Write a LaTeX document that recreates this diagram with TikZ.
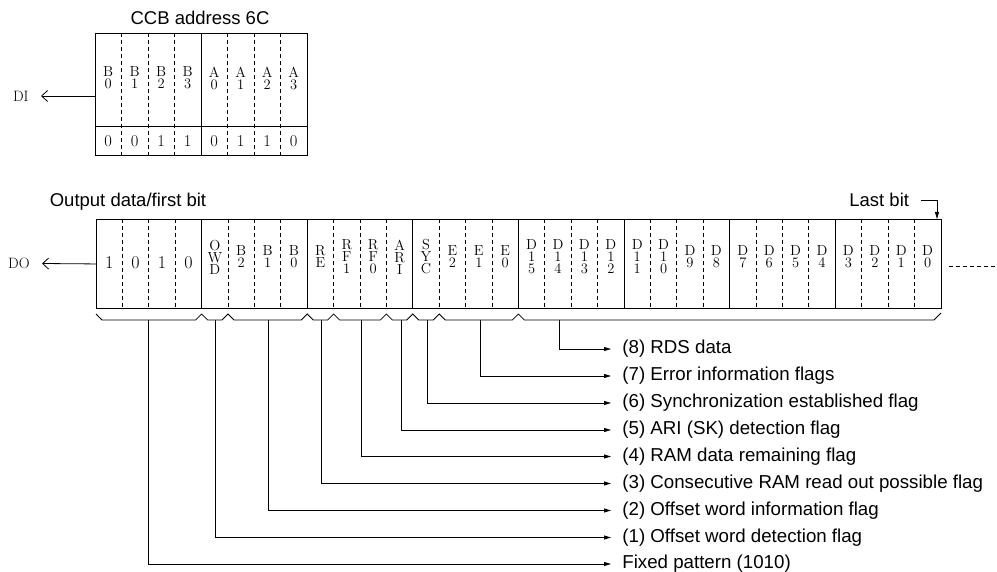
\documentclass[tikz,border=0pt]{standalone}
\usepackage{fontspec}
\newfontfamily\labfont{Liberation Sans}
\usetikzlibrary{arrows.meta}
\begin{document}
\begin{tikzpicture}[x=1pt,y=-1pt,line width=0.8pt,
  cell/.style={font=\fontsize{14.5}{12}\selectfont, align=center, inner sep=0pt},
  bigdig/.style={font=\fontsize{18}{18}\selectfont, inner sep=0pt},
  topdig/.style={font=\fontsize{16.5}{16.5}\selectfont, inner sep=0pt},
  pin/.style={font=\fontsize{15}{15}\selectfont, anchor=east, inner xsep=12pt, inner ysep=0pt},
  title/.style={font=\labfont\fontsize{18.5}{20}\selectfont, inner sep=1pt},
  lab/.style={font=\labfont\fontsize{18.7}{20}\selectfont, anchor=west, inner xsep=11pt, inner ysep=1pt},
  arr/.style={-{Triangle[length=7pt,width=4pt]}},
  barb/.style={-{Straight Barb[length=6pt,width=11pt]}},
  dsh/.style={dash pattern=on 4pt off 3pt, line width=0.7pt},
  boxline/.style={draw, line width=0.9pt, inner sep=0pt, anchor=north west}]
\useasboundingbox (0,0) rectangle (997,572);

% ---------- top register ----------
\node[title] (ccb) at (200,18) {CCB address 6C};
\node[boxline, minimum width=212pt, minimum height=122pt] (topbox) at (95,33) {};
\draw (95,126) -- (307,126);
\draw (201,33) -- (201,155);
\foreach \i in {1,2,3,5,6,7} \draw[dsh] (95+\i*26.5,33) -- (95+\i*26.5,155);
\foreach \t [count=\i] in {B\\0,B\\1,B\\2,B\\3,A\\0,A\\1,A\\2,A\\3}
  \node[cell] (a\i) at (95+\i*26.5-13.25,78) {\t};
\foreach \t [count=\i] in {0,0,1,1,0,1,1,0}
  \node[topdig] (b\i) at (95+\i*26.5-13.25,141) {\t};
\node[pin] (DI) at (41,96) {DI};
\draw[barb] (topbox.west |- DI.east) -- (DI.east);

% ---------- output register ----------
\node[title] (first) at (128,202) {Output data/first bit};
\node[boxline, minimum width=844.8pt, minimum height=89pt] (mainbox) at (96,219) {};
\foreach \k in {1,...,31}{
  \pgfmathtruncatemacro{\r}{mod(\k,4)}
  \ifnum\r=0 \draw (96+\k*26.4,219) -- (96+\k*26.4,308);
  \else \draw[dsh] (96+\k*26.4,219) -- (96+\k*26.4,308); \fi
}
\foreach \t [count=\i] in {1,0,1,0}
  \node[bigdig] (c\i) at (96+\i*26.4-13.2,263) {\t};
\foreach \t [count=\i from 5] in {O\\W\\D,B\\2,B\\1,B\\0,R\\E,R\\F\\1,R\\F\\0,A\\R\\I,
    S\\Y\\C,E\\2,E\\1,E\\0,D\\1\\5,D\\1\\4,D\\1\\3,D\\1\\2,D\\1\\1,D\\1\\0,D\\9,D\\8,
    D\\7,D\\6,D\\5,D\\4,D\\3,D\\2,D\\1,D\\0}
  \node[cell] (c\i) at (96+\i*26.4-13.2,257) {\t};
\node[pin] (DO) at (42,263.5) {DO};
\draw[barb] (mainbox.west) -- (DO.east);
\coordinate (tail) at (997,266);
\draw[dsh] ([xshift=7pt]mainbox.east |- tail) -- (tail);

\node[title, anchor=west] (last) at (848,200) {Last bit};
\coordinate (lbt) at (937,219);
\draw[arr] ([xshift=11pt]last.east) -| (lbt);

% ---------- bracket ----------
\draw (96,314) -- (102,320) -- (195.6,320) -- (201.6,314) -- (207.6,320)
  -- (222,320) -- (228,314) -- (234,320) -- (301.2,320) -- (307.2,314) -- (313.2,320)
  -- (327.6,320) -- (333.6,314) -- (339.6,320) -- (380.4,320) -- (386.4,314) -- (392.4,320)
  -- (406.8,320) -- (412.8,314) -- (418.8,320) -- (433.2,320) -- (439.2,314) -- (445.2,320)
  -- (512.4,320) -- (518.4,314) -- (524.4,320) -- (934,320) -- (941,313);

\coordinate (t0) at (148.5,320);
\coordinate (t1) at (215,320);
\coordinate (t2) at (268,320);
\coordinate (t3) at (321,320);
\coordinate (t4) at (361,320);
\coordinate (t5) at (401,320);
\coordinate (t6) at (427,320);
\coordinate (t7) at (480,320);
\coordinate (t8) at (559,320);

\node[lab] (L8) at (611,349) {(8) RDS data};
\node[lab] (L7) at (611,376) {(7) Error information flags};
\node[lab] (L6) at (611,403) {(6) Synchronization established flag};
\node[lab] (L5) at (611,430) {(5) ARI (SK) detection flag};
\node[lab] (L4) at (611,456.5) {(4) RAM data remaining flag};
\node[lab] (L3) at (611,483.5) {(3) Consecutive RAM read out possible flag};
\node[lab] (L2) at (611,510.5) {(2) Offset word information flag};
\node[lab] (L1) at (611,537.5) {(1) Offset word detection flag};
\node[lab] (L0) at (611,564) {Fixed pattern (1010)};

\foreach \j in {0,...,8} \draw[arr] (t\j) |- (L\j.west);
\end{tikzpicture}
\end{document}
